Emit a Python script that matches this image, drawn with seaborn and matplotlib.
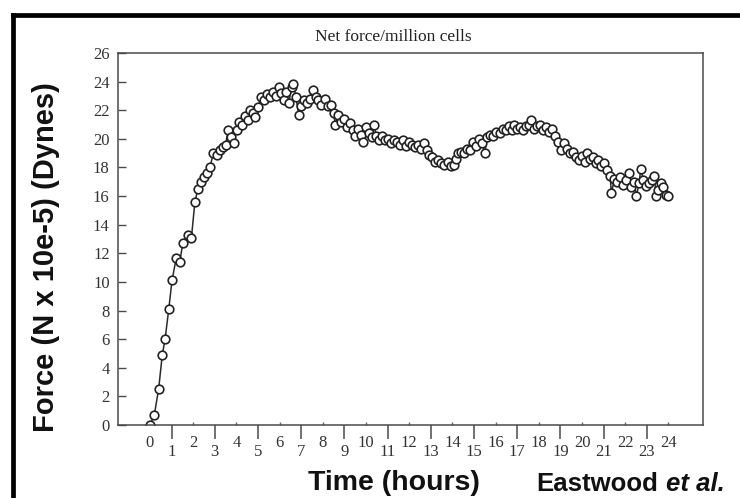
import matplotlib
matplotlib.use("Agg")
import matplotlib.pyplot as plt
from matplotlib.lines import Line2D
import seaborn as sns
import pandas as pd

# ---- data (hours, force) ----
hours = [
    0.00, 0.20, 0.40, 0.57, 0.70, 0.87, 1.02, 1.22, 1.38, 1.52, 1.78, 1.92,
    2.08, 2.22, 2.38, 2.52, 2.65, 2.78, 2.93, 3.08, 3.24, 3.38, 3.50, 3.62,
    3.76, 3.88, 4.02, 4.12, 4.26, 4.40, 4.52, 4.64, 4.78, 4.88, 5.02, 5.12,
    5.26, 5.40, 5.54, 5.68, 5.82, 5.95, 6.08, 6.20, 6.30, 6.42, 6.56, 6.64,
    6.76, 6.88, 7.00, 7.12, 7.26, 7.40, 7.55, 7.68, 7.80, 7.94, 8.08, 8.22,
    8.36, 8.50, 8.58, 8.72, 8.86, 8.98, 9.12, 9.26, 9.40, 9.50, 9.64, 9.76,
    9.88, 10.00, 10.14, 10.28, 10.36, 10.48, 10.62, 10.76, 10.90, 11.02, 11.16, 11.28,
    11.42, 11.56, 11.70, 11.86, 11.98, 12.12, 12.26, 12.40, 12.54, 12.68, 12.82, 12.92,
    13.06, 13.20, 13.34, 13.48, 13.62, 13.78, 13.92, 14.06, 14.16, 14.28, 14.42, 14.54,
    14.68, 14.82, 14.96, 15.08, 15.22, 15.36, 15.50, 15.60, 15.76, 15.90, 16.04, 16.18,
    16.32, 16.46, 16.60, 16.74, 16.86, 17.00, 17.14, 17.28, 17.42, 17.56, 17.66, 17.80,
    17.92, 18.06, 18.20, 18.34, 18.48, 18.62, 18.76, 18.90, 19.04, 19.16, 19.30, 19.44,
    19.56, 19.70, 19.84, 19.98, 20.12, 20.24, 20.38, 20.50, 20.64, 20.76, 20.90, 21.04,
    21.16, 21.30, 21.36, 21.50, 21.62, 21.76, 21.90, 22.02, 22.16, 22.28, 22.40, 22.52,
    22.64, 22.72, 22.84, 22.96, 23.10, 23.24, 23.34, 23.44, 23.54, 23.66, 23.76, 23.88,
    24.00,
]
force = [
    0.0, 0.7, 2.5, 4.9, 6.0, 8.1, 10.1, 11.7, 11.4, 12.7, 13.3, 13.1,
    15.6, 16.5, 17.0, 17.3, 17.6, 18.0, 19.0, 18.9, 19.2, 19.4, 19.6, 20.6,
    20.1, 19.7, 20.6, 21.2, 21.0, 21.6, 21.3, 22.0, 21.8, 21.5, 22.2, 22.9,
    22.7, 23.1, 22.9, 23.3, 23.0, 23.6, 23.2, 22.7, 23.3, 22.5, 23.6, 23.8,
    22.9, 21.7, 22.3, 22.7, 22.5, 22.8, 23.4, 22.9, 22.7, 22.4, 22.8, 22.3,
    22.4, 21.8, 21.0, 21.7, 21.2, 21.4, 20.8, 21.1, 20.6, 20.2, 20.7, 20.3,
    19.8, 20.8, 20.4, 20.1, 21.0, 20.2, 19.9, 20.2, 19.9, 20.0, 19.7, 19.9,
    19.8, 19.6, 19.9, 19.5, 19.8, 19.6, 19.4, 19.6, 19.3, 19.7, 19.2, 18.9,
    18.7, 18.4, 18.5, 18.3, 18.2, 18.4, 18.1, 18.2, 18.6, 19.0, 19.1, 19.0,
    19.3, 19.2, 19.8, 19.5, 20.0, 19.7, 19.0, 20.1, 20.3, 20.2, 20.5, 20.4,
    20.7, 20.6, 20.9, 20.6, 21.0, 20.7, 20.8, 20.6, 20.9, 21.0, 21.3, 20.7,
    20.9, 21.0, 20.6, 20.8, 20.5, 20.7, 20.2, 19.8, 19.2, 19.7, 19.3, 19.0,
    19.1, 18.7, 18.5, 18.8, 18.4, 19.0, 18.6, 18.7, 18.3, 18.5, 18.1, 18.3,
    17.8, 17.4, 16.2, 17.2, 17.0, 17.3, 16.8, 17.1, 17.6, 16.6, 17.0, 16.0,
    16.9, 17.9, 17.1, 16.7, 16.9, 17.1, 17.4, 16.0, 16.4, 16.9, 16.6, 16.1,
    16.0,
]
y_ticks = [0, 2, 4, 6, 8, 10, 12, 14, 16, 18, 20, 22, 24, 26]
x_even = [0, 2, 4, 6, 8, 10, 12, 14, 16, 18, 20, 22, 24]
x_odd = [1, 3, 5, 7, 9, 11, 13, 15, 17, 19, 21, 23]

title = "Net force/million cells"
ylabel = "Force (N x 10e-5) (Dynes)"
xlabel = "Time (hours)"

df = pd.DataFrame({"hours": hours, "force": force})

sns.set_style("white")
plt.rcParams["font.family"] = ["Liberation Serif", "DejaVu Serif"]

W, H = 740, 498
fig = plt.figure(figsize=(W / 100, H / 100), dpi=100)
ax = fig.add_axes([118 / W, 1 - 425 / H, (703 - 118) / W, (425 - 53) / H])

sns.lineplot(data=df, x="hours", y="force", ax=ax, estimator=None, sort=False,
             color="#2a2a2a", linewidth=1.1, marker="o", markersize=6.2,
             markerfacecolor="white", markeredgecolor="#222222",
             markeredgewidth=1.2)

ax.set_xlim(-1.48, 25.6)
ax.set_ylim(0, 26)
ax.set_xlabel("")
ax.set_ylabel("")

for s in ax.spines.values():
    s.set_color("#4a4a4a")
    s.set_linewidth(1.1)
    s.set_visible(True)

ax.set_yticks(y_ticks)
ax.set_yticklabels([str(v) for v in y_ticks])
ax.tick_params(axis="y", direction="in", length=6, width=1.0, color="#4a4a4a",
               labelsize=12, labelcolor="#333333", pad=6, left=True)

ax.set_xticks(x_even)
ax.set_xticklabels([str(v) for v in x_even])
ax.set_xticks(x_odd, minor=True)
ax.set_xticklabels([str(v) for v in x_odd], minor=True)
ax.tick_params(axis="x", which="major", direction="in", length=2.5, width=1.0,
               color="#666666", labelsize=12, labelcolor="#333333", pad=7,
               bottom=True)
ax.tick_params(axis="x", which="minor", direction="out", length=10, width=1.1,
               color="#4a4a4a", labelsize=12, labelcolor="#333333", pad=4,
               bottom=True)

fig.text(393 / W, 1 - 37 / H, title, ha="center", va="center",
         fontsize=12.5, color="#222222", family=["Liberation Serif"])

fig.text(46 / W, 1 - 257 / H, ylabel, rotation=90, ha="center", va="center",
         fontsize=21, fontweight="bold", color="#111111",
         family=["Liberation Sans", "DejaVu Sans"])
fig.text(394 / W, 1 - 490 / H, xlabel, ha="center", va="baseline",
         fontsize=20.5, fontweight="bold", color="#111111",
         family=["Liberation Sans", "DejaVu Sans"])
fig.text(536 / W, 1 - 491 / H, "Eastwood", ha="left", va="baseline",
         fontsize=18.5, fontweight="bold", color="#111111",
         family=["Liberation Sans", "DejaVu Sans"])
fig.text(725 / W, 1 - 491 / H, "et al.", ha="right", va="baseline",
         fontsize=18.5, fontweight="bold", style="italic", color="#111111",
         family=["Liberation Sans", "DejaVu Sans"])

# thick frame of the scanned figure (left and top edges)
fig.add_artist(Line2D([12.5 / W, 12.5 / W], [0, 1 - 15 / H], transform=fig.transFigure,
                      color="black", linewidth=3.4, solid_capstyle="projecting"))
fig.add_artist(Line2D([12.5 / W, 1.0], [1 - 15 / H, 1 - 15 / H], transform=fig.transFigure,
                      color="black", linewidth=3.4, solid_capstyle="projecting"))

fig.savefig("out.png", dpi=100)
